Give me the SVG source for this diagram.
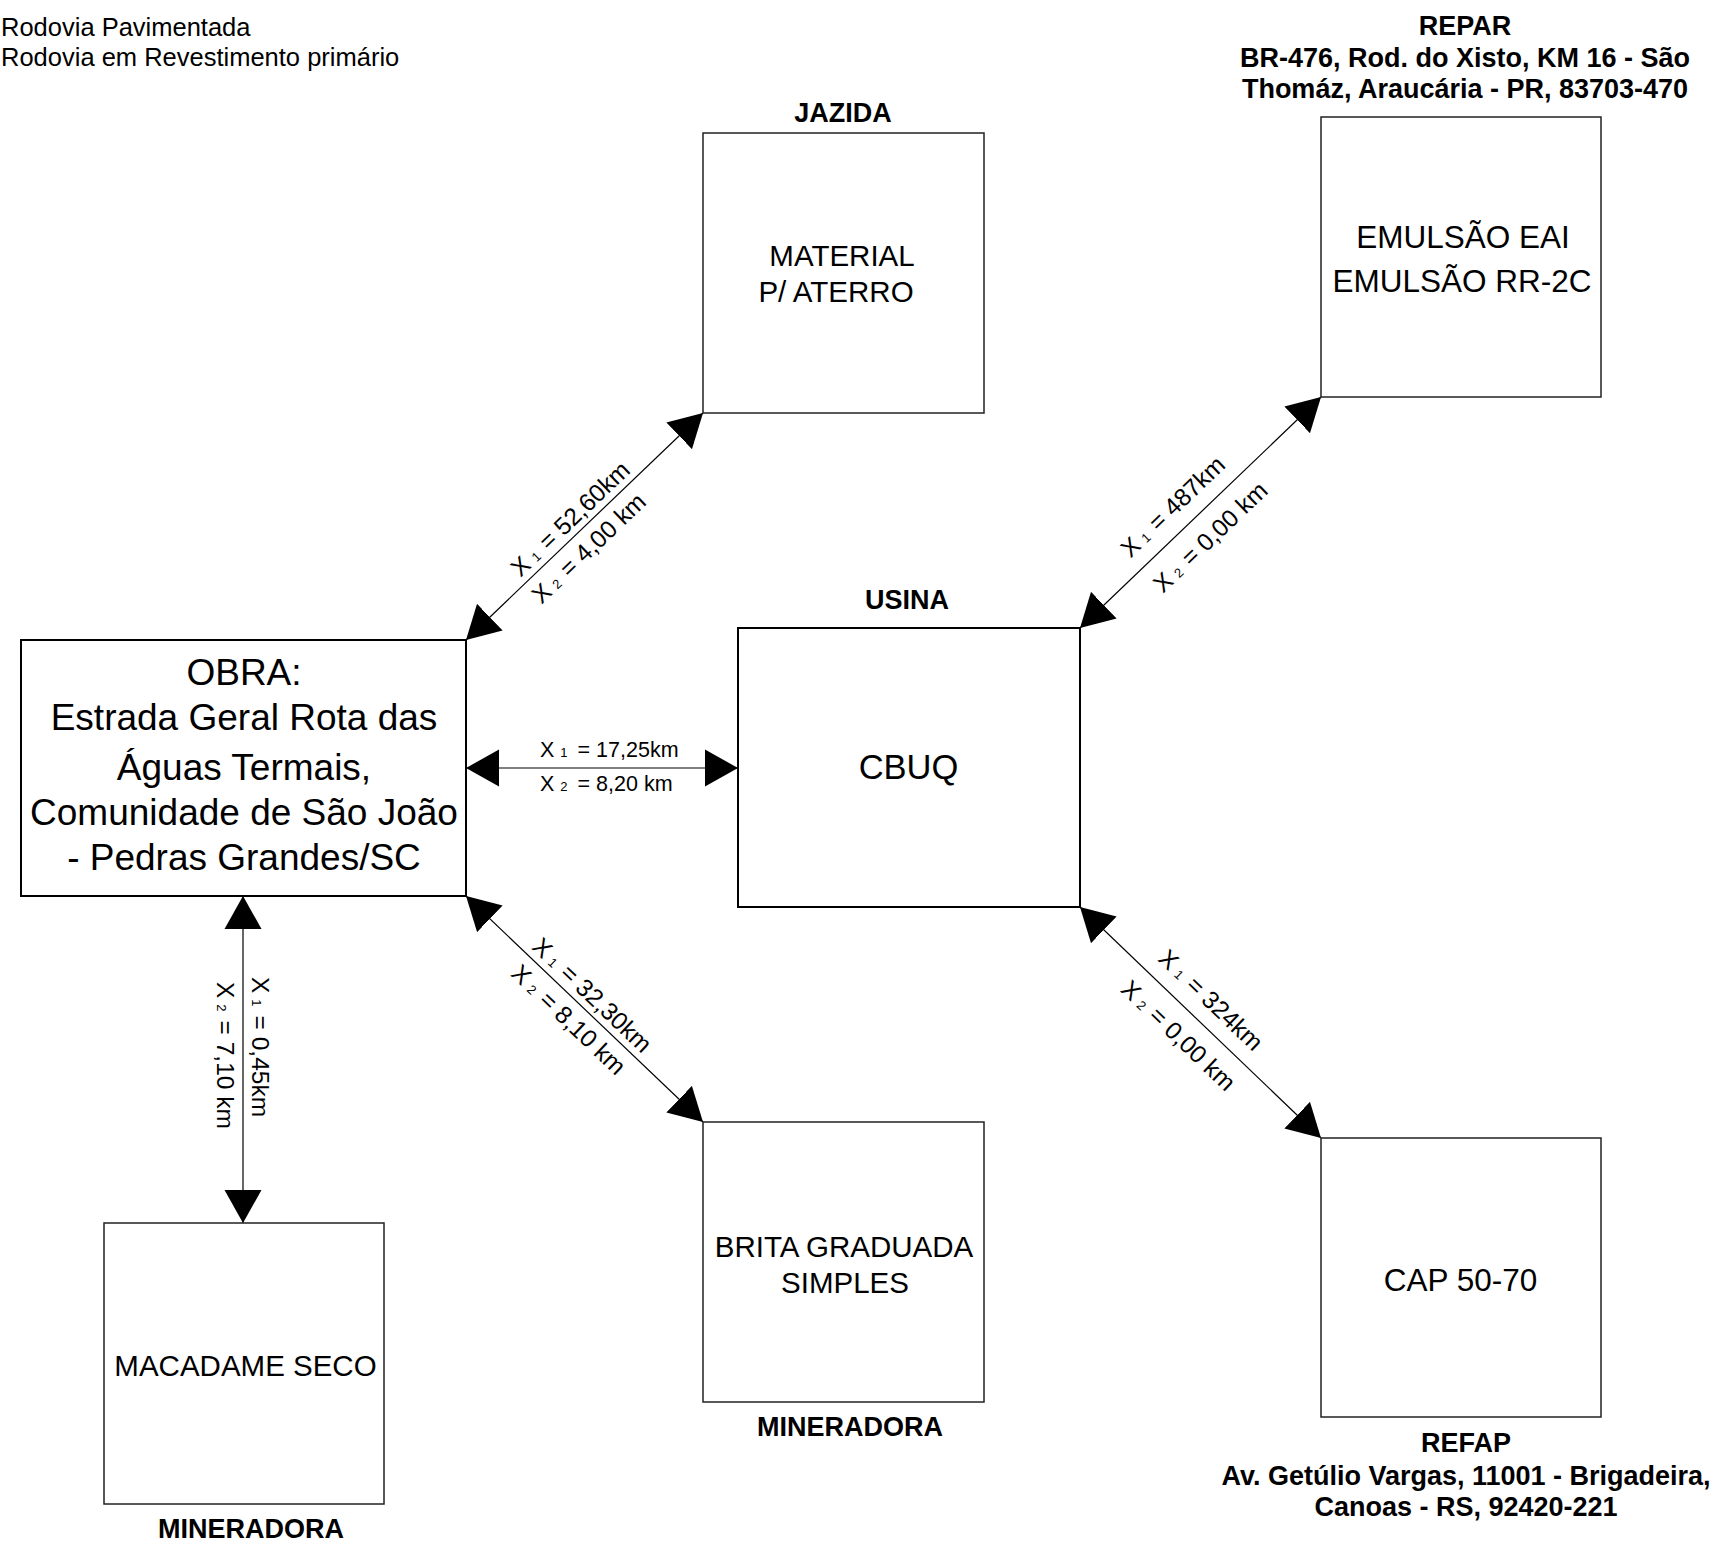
<svg xmlns="http://www.w3.org/2000/svg" width="1717" height="1545" viewBox="0 0 1717 1545">
<style>
text{font-family:"Liberation Sans",Arial,sans-serif;fill:#000}
.hd{font-size:25.5px}
.bl{font-size:27px;font-weight:bold;text-anchor:middle}
.bx{fill:#fff;stroke:#222;stroke-width:1.5}
.bx2{fill:#fff;stroke:#000;stroke-width:2}
.t29{font-size:29.5px;text-anchor:middle}
.t31{font-size:31.5px;text-anchor:middle}
.t34{font-size:34.5px;text-anchor:middle}
.t36{font-size:37px;text-anchor:middle}
.lb{font-size:24.5px;text-anchor:middle}
.lh{font-size:21.5px}
.sub{font-size:13px}
.cn{stroke:#000;stroke-width:1.2;fill:none;marker-start:url(#ah);marker-end:url(#ah)}
</style>
<defs>
<marker id="ah" viewBox="0 -19 34 38" refX="33" refY="0" markerWidth="34" markerHeight="38" markerUnits="userSpaceOnUse" orient="auto-start-reverse">
<path d="M0,-18.5 L33,0 L0,18.5 Z" fill="#000"/>
</marker>
</defs>
<rect width="1717" height="1545" fill="#fff"/>
<g id="legend">
<text class="hd" x="1" y="36">Rodovia Pavimentada</text>
<text class="hd" x="1" y="66">Rodovia em Revestimento primário</text>
</g>
<g id="connectors">
<line class="cn" x1="466" y1="640" x2="703" y2="413"/>
<line class="cn" x1="466" y1="768" x2="738" y2="768"/>
<line class="cn" x1="243" y1="896" x2="243" y2="1223"/>
<line class="cn" x1="466" y1="896" x2="703" y2="1122"/>
<line class="cn" x1="1080" y1="628" x2="1321" y2="397"/>
<line class="cn" x1="1080" y1="907" x2="1321" y2="1138"/>
<g transform="translate(584.5,526.5) rotate(-43.76)">
<text class="lb" x="-5" y="-7">X<tspan class="sub" dx="6">1</tspan><tspan dx="9">= 52,60km</tspan></text>
<text class="lb" x="-12" y="27">X<tspan class="sub" dx="6">2</tspan><tspan dx="9">= 4,00 km</tspan></text>
</g>
<text class="lh" x="540" y="757">X<tspan class="sub" dx="6">1</tspan><tspan dx="10">= 17,25km</tspan></text>
<text class="lh" x="540" y="791">X<tspan class="sub" dx="6">2</tspan><tspan dx="10">= 8,20 km</tspan></text>
<g transform="translate(243,1060) rotate(90)">
<text class="lb" style="text-anchor:start" x="-83" y="-9">X<tspan class="sub" dx="6">1</tspan><tspan dx="9">= 0,45km</tspan></text>
<text class="lb" style="text-anchor:start" x="-78" y="26">X<tspan class="sub" dx="6">2</tspan><tspan dx="9">= 7,10 km</tspan></text>
</g>
<g transform="translate(584.5,1009) rotate(43.64)">
<text class="lb" x="-4" y="-7">X<tspan class="sub" dx="6">1</tspan><tspan dx="9">= 32,30km</tspan></text>
<text class="lb" x="-4" y="27">X<tspan class="sub" dx="6">2</tspan><tspan dx="9">= 8,10 km</tspan></text>
</g>
<g transform="translate(1200.5,512.5) rotate(-43.79)">
<text class="lb" x="-16" y="-15">X<tspan class="sub" dx="6">1</tspan><tspan dx="9">= 487km</tspan></text>
<text class="lb" x="-10" y="33">X<tspan class="sub" dx="6">2</tspan><tspan dx="9">= 0,00 km</tspan></text>
</g>
<g transform="translate(1200.5,1022.5) rotate(43.79)">
<text class="lb" x="-8" y="-15">X<tspan class="sub" dx="6">1</tspan><tspan dx="9">= 324km</tspan></text>
<text class="lb" x="-7" y="33">X<tspan class="sub" dx="6">2</tspan><tspan dx="9">= 0,00 km</tspan></text>
</g>
</g>
<g id="jazida">
<text class="bl" x="843" y="122">JAZIDA</text>
<rect class="bx" x="703" y="133" width="281" height="280"/>
<text class="t29" x="842" y="266">MATERIAL</text>
<text class="t29" x="836" y="302">P/ ATERRO</text>
</g>
<g id="repar">
<text class="bl" x="1465" y="35">REPAR</text>
<text class="bl" x="1465" y="66.5">BR-476, Rod. do Xisto, KM 16 - São</text>
<text class="bl" x="1465" y="98">Thomáz, Araucária - PR, 83703-470</text>
<rect class="bx" x="1321" y="117" width="280" height="280"/>
<text class="t31" x="1463" y="248">EMULSÃO EAI</text>
<text class="t31" x="1462" y="292">EMULSÃO RR-2C</text>
</g>
<g id="obra">
<rect class="bx2" x="21" y="640" width="445" height="256"/>
<text class="t36" x="244" y="685">OBRA:</text>
<text class="t36" x="244" y="730">Estrada Geral Rota das</text>
<text class="t36" x="244" y="780">Águas Termais,</text>
<text class="t36" x="244" y="825">Comunidade de São João</text>
<text class="t36" x="244" y="870">- Pedras Grandes/SC</text>
</g>
<g id="usina">
<text class="bl" x="907" y="609">USINA</text>
<rect class="bx2" x="738" y="628" width="342" height="279"/>
<text class="t34" x="908.5" y="779">CBUQ</text>
</g>
<g id="macadame">
<rect class="bx" x="104" y="1223" width="280" height="281"/>
<text class="t29" x="245.5" y="1376">MACADAME SECO</text>
<text class="bl" x="251" y="1538">MINERADORA</text>
</g>
<g id="brita">
<rect class="bx" x="703" y="1122" width="281" height="280"/>
<text class="t29" x="844" y="1257">BRITA GRADUADA</text>
<text class="t29" x="845" y="1293">SIMPLES</text>
<text class="bl" x="850" y="1436">MINERADORA</text>
</g>
<g id="cap">
<rect class="bx" x="1321" y="1138" width="280" height="279"/>
<text class="t31" x="1460.5" y="1291">CAP 50-70</text>
<text class="bl" x="1466" y="1452">REFAP</text>
<text class="bl" x="1466" y="1485">Av. Getúlio Vargas, 11001 - Brigadeira,</text>
<text class="bl" x="1466" y="1516">Canoas - RS, 92420-221</text>
</g>
</svg>
